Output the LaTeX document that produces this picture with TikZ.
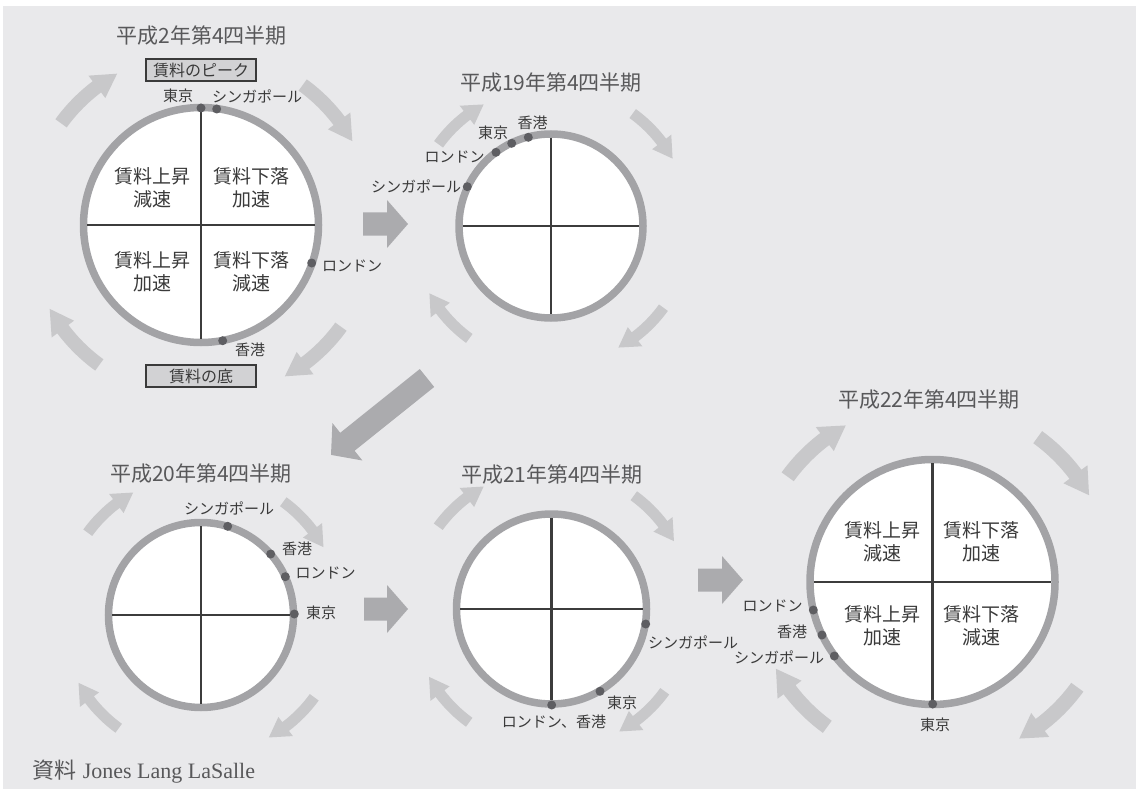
\documentclass[tikz,border=0pt]{standalone}
\usepackage{fontspec}
\newfontfamily\jp{Noto Sans CJK JP}
\newfontfamily\srf{Liberation Serif}
\usetikzlibrary{calc}
\definecolor{bg}{HTML}{E9E9EB}
\definecolor{ringc}{HTML}{A3A3A6}
\definecolor{crossc}{HTML}{3C3C3C}
\definecolor{dotc}{HTML}{5E5E62}
\definecolor{carc}{HTML}{C8C8CA}
\definecolor{bigarc}{HTML}{ABABAE}
\definecolor{titlec}{HTML}{58585A}
\definecolor{labc}{HTML}{3A3A3A}
\definecolor{boxfill}{HTML}{D2D2D4}
% curved arrow: cx cy R tailangle tipangle halfshaft halfhead headdeg
\newcommand\carr[8]{\begin{scope}[shift={(#1,#2)}]
\fill[curvearr] (#4:{#3+#6}) arc[start angle=#4, end angle={#5-#8}, radius={#3+#6}]
 -- ({#5-#8}:{#3+#7}) -- (#5:#3) -- ({#5-#8}:{#3-#7}) -- ({#5-#8}:{#3-#6})
 arc[start angle={#5-#8}, end angle=#4, radius={#3-#6}] -- cycle;
\end{scope}}
\newcommand\cyc[6]{%
 \carr{#1}{#2}{#3}{-144}{-119}{#4}{#5}{#6}%
 \carr{#1}{#2}{#3}{-54}{-29}{#4}{#5}{#6}%
 \carr{#1}{#2}{#3}{36}{61}{#4}{#5}{#6}%
 \carr{#1}{#2}{#3}{126}{151}{#4}{#5}{#6}}
% straight arrow along local x: length
\newcommand\bigarrowshape[1]{\fill[bigarr] (0,-11.5) -- ({#1-21},-11.5) -- ({#1-21},-24) -- (#1,0) -- ({#1-21},24) -- ({#1-21},11.5) -- (0,11.5) -- cycle;}
\newcommand\crossat[2]{\draw[cross] ($(#1.center)+(-#2,0)$) -- ($(#1.center)+(#2,0)$);
 \draw[cross] ($(#1.center)+(0,-#2)$) -- ($(#1.center)+(0,#2)$);}
\begin{document}
\begin{tikzpicture}[x=1pt,y=-1pt,
 ttl/.style={inner sep=0, text=titlec, font=\jp\fontsize{21}{24}\selectfont},
 quad/.style={inner sep=0, text=labc, align=center, font=\jp\fontsize{19}{22.5}\selectfont},
 city/.style={inner sep=0, text=labc, font=\jp\fontsize{15}{18}\selectfont},
 dot/.style={circle, fill=dotc, inner sep=0, minimum size=9},
 ring/.style={circle, draw=ringc, line width=7.5, fill=white, inner sep=0},
 cross/.style={draw=crossc, line width=2.2},
 curvearr/.style={fill=carc},
 bigarr/.style={fill=bigarc},
 tagbox/.style={draw=labc, line width=2.5, fill=boxfill, text=labc, minimum width=110, minimum height=22, inner sep=0, font=\jp\fontsize{16}{18}\selectfont}
]
\useasboundingbox (0,0) rectangle (1136,789);
\fill[bg] (3,6) rectangle (1136,789);

% cycle arrows
\cyc{201}{225}{173}{7}{14}{8}
\cyc{551}{226}{139}{5.5}{12}{8.2}
\cyc{201}{615}{140}{5.5}{12}{8.2}
\cyc{551.5}{609}{140}{5.5}{12}{8.2}
\cyc{932.5}{582}{179}{7.5}{15}{8}

% transition arrows
\begin{scope}[shift={(363,224)}]\bigarrowshape{45}\end{scope}
\begin{scope}[shift={(364,609)}]\bigarrowshape{44}\end{scope}
\begin{scope}[shift={(698,580)}]\bigarrowshape{45}\end{scope}
\begin{scope}[shift={(427,378)}, rotate=-141.3]\bigarrowshape{123}\end{scope}

% circles
\node[ring, minimum size=235] (c1) at (201,225) {};
\node[ring, minimum size=184] (c2) at (551,226) {};
\node[ring, minimum size=185] (c3) at (201,615) {};
\node[ring, minimum size=190] (c4) at (551.5,609) {};
\node[ring, minimum size=245] (c5) at (932.5,582) {};
\crossat{c1}{113.75}
\crossat{c2}{88.25}
\crossat{c3}{88.75}
\crossat{c4}{91.25}
\crossat{c5}{118.75}

% quadrant labels
\node[quad] (q1a) at (152,188) {賃料上昇\\減速};
\node[quad] (q1b) at (251,188) {賃料下落\\加速};
\node[quad] (q1c) at (152,272) {賃料上昇\\加速};
\node[quad] (q1d) at (251,272) {賃料下落\\減速};
\node[quad] (q5a) at (882.5,542) {賃料上昇\\減速};
\node[quad] (q5b) at (981.5,542) {賃料下落\\加速};
\node[quad] (q5c) at (882.5,626) {賃料上昇\\加速};
\node[quad] (q5d) at (981.5,626) {賃料下落\\減速};

% titles and tags
\node[ttl] (t1) at (201.5,36) {平成2年第4四半期};
\node[ttl] (t2) at (551,83) {平成19年第4四半期};
\node[ttl] (t3) at (201,474) {平成20年第4四半期};
\node[ttl] (t4) at (552,475) {平成21年第4四半期};
\node[ttl] (t5) at (929,400) {平成22年第4四半期};
\node[tagbox] (peak) at (201,70) {賃料のピーク};
\node[tagbox] (bottom) at (201,376) {賃料の底};

% circle 1 cities
\node[dot] (d1tk) at (201,108) {};
\node[dot] (d1sg) at (216.7,109) {};
\node[dot] (d1ld) at (311.7,263) {};
\node[dot] (d1hk) at (222.7,340.7) {};
\node[city] (l1tk) at (178,96) {東京};
\node[city] (l1sg) at (257,96) {シンガポール};
\node[city] (l1ld) at (352,266) {ロンドン};
\node[city] (l1hk) at (250,350) {香港};
% circle 2
\node[dot] (d2hk) at (528.3,137.3) {};
\node[dot] (d2tk) at (511.7,143.3) {};
\node[dot] (d2ld) at (496,152.3) {};
\node[dot] (d2sg) at (467.3,186.7) {};
\node[city] (l2hk) at (532.5,122.7) {香港};
\node[city] (l2tk) at (493,133) {東京};
\node[city] (l2ld) at (454.5,156.7) {ロンドン};
\node[city] (l2sg) at (416,186) {シンガポール};
% circle 3
\node[dot] (d3sg) at (227.7,526.3) {};
\node[dot] (d3hk) at (270.7,554) {};
\node[dot] (d3ld) at (285.3,576.7) {};
\node[dot] (d3tk) at (294.3,614) {};
\node[city] (l3sg) at (229,508) {シンガポール};
\node[city] (l3hk) at (297,549.3) {香港};
\node[city] (l3ld) at (325.5,573) {ロンドン};
\node[city] (l3tk) at (321,613) {東京};
% circle 4
\node[dot] (d4sg) at (645.7,624) {};
\node[dot] (d4tk) at (600,691.3) {};
\node[dot] (d4lh) at (551.7,705) {};
\node[city] (l4sg) at (693,642.7) {シンガポール};
\node[city] (l4tk) at (622,703) {東京};
\node[city] (l4lh) at (554,721.7) {ロンドン、香港};
% circle 5
\node[dot] (d5ld) at (813.3,610) {};
\node[dot] (d5hk) at (822,635) {};
\node[dot] (d5sg) at (834.3,656) {};
\node[dot] (d5tk) at (932.7,704) {};
\node[city] (l5ld) at (772.5,606) {ロンドン};
\node[city] (l5hk) at (792,631.7) {香港};
\node[city] (l5sg) at (779,657.3) {シンガポール};
\node[city] (l5tk) at (935,725) {東京};

% source
\node[anchor=west, inner sep=0, text=titlec, font=\fontsize{22}{25}\selectfont] (src) at (32,772) {{\jp 資料} {\srf Jones Lang LaSalle}};
\end{tikzpicture}
\end{document}
